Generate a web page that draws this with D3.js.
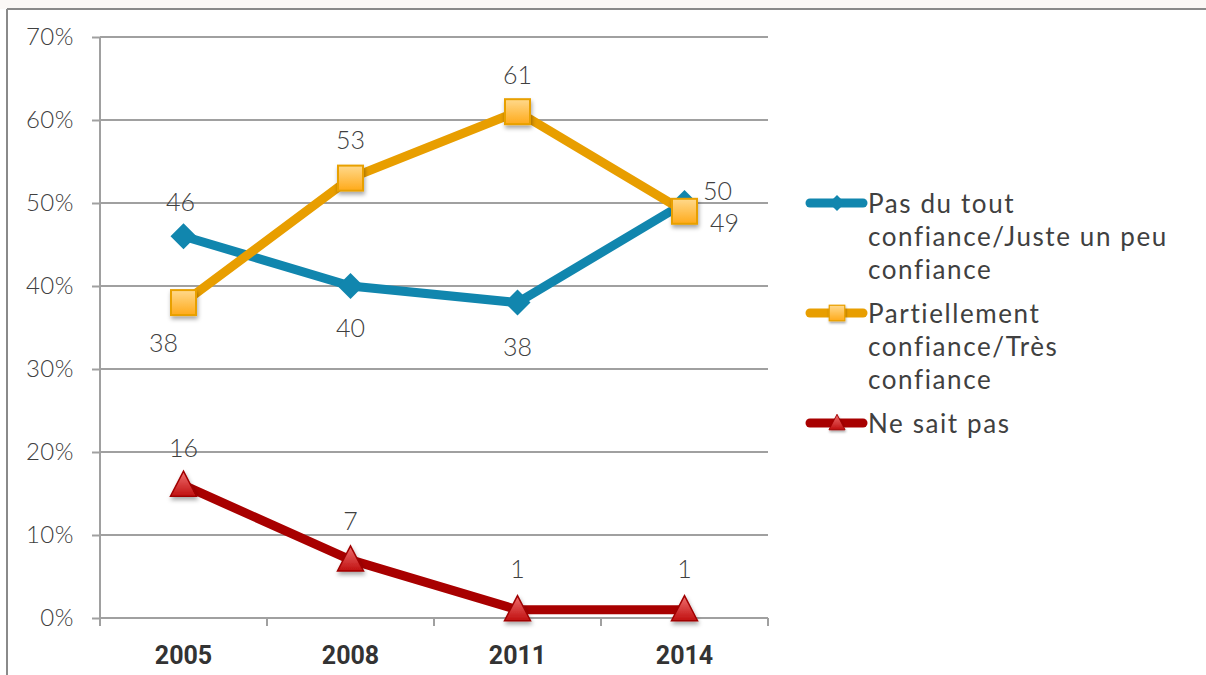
<!DOCTYPE html>
<html>
<head>
<meta charset="utf-8">
<script src="https://cdn.jsdelivr.net/npm/d3@7"></script>
<style>
  html, body { margin: 0; padding: 0; background: #fff; }
  svg { display: block; }
</style>
</head>
<body>
<svg id="chart" width="1206" height="675"></svg>
<script>
// Survey years and the three answer series (percent)
const years = ["2005", "2008", "2011", "2014"];
const pasConfiance = [46, 40, 38, 50];
const confiance = [38, 53, 61, 49];
const neSaitPas = [16, 7, 1, 1];
const yTicks = [0, 10, 20, 30, 40, 50, 60, 70];
const seriesNames = [
  ["Pas du tout", "confiance/Juste un peu", "confiance"],
  ["Partiellement", "confiance/Très", "confiance"],
  ["Ne sait pas"]
];

const svg = d3.select("#chart");
const W = 1206, H = 675;
const plot = { left: 100, right: 768, top: 37, bottom: 618 };

const x = d3.scaleBand().domain(years).range([plot.left, plot.right]).padding(0);
const y = d3.scaleLinear().domain([0, 70]).range([plot.bottom, plot.top]);

const defs = svg.append("defs");
const shadow = defs.append("filter").attr("id", "shadow")
  .attr("x", "-50%").attr("y", "-50%").attr("width", "200%").attr("height", "200%");
shadow.append("feDropShadow").attr("dx", 1).attr("dy", 3).attr("stdDeviation", 2)
  .attr("flood-color", "#000").attr("flood-opacity", 0.35);

const gSq = defs.append("linearGradient").attr("id", "gradSq").attr("x1", 0).attr("y1", 0).attr("x2", 0).attr("y2", 1);
gSq.append("stop").attr("offset", "0%").attr("stop-color", "#ffd98c");
gSq.append("stop").attr("offset", "100%").attr("stop-color", "#ffaa1a");
const gTri = defs.append("linearGradient").attr("id", "gradTri").attr("x1", 0).attr("y1", 0).attr("x2", 0).attr("y2", 1);
gTri.append("stop").attr("offset", "0%").attr("stop-color", "#f07070");
gTri.append("stop").attr("offset", "100%").attr("stop-color", "#c01010");

// page frame
svg.append("rect").attr("x", 0).attr("y", 0).attr("width", W).attr("height", 9).attr("fill", "#fbf8f6");
svg.append("line").attr("x1", 7).attr("x2", W).attr("y1", 9).attr("y2", 9).attr("stroke", "#8a8a8a").attr("stroke-width", 2);
svg.append("line").attr("x1", 7).attr("x2", 7).attr("y1", 9).attr("y2", H).attr("stroke", "#8a8a8a").attr("stroke-width", 2);

// gridlines
svg.append("g").selectAll("line").data(yTicks.filter(d => d > 0)).join("line")
  .attr("x1", plot.left).attr("x2", plot.right)
  .attr("y1", d => y(d)).attr("y2", d => y(d))
  .attr("stroke", "#a0a0a0").attr("stroke-width", 2);

// y axis
const yAxis = svg.append("g").attr("transform", `translate(${plot.left},0)`)
  .call(d3.axisLeft(y).tickValues(yTicks).tickFormat(d => d + "%").tickSize(8).tickPadding(18));
yAxis.select(".domain").attr("stroke", "#a0a0a0").attr("stroke-width", 2).attr("d", `M0,${plot.top}V${plot.bottom}`);
yAxis.selectAll(".tick line").attr("stroke", "#a0a0a0").attr("stroke-width", 2);
yAxis.selectAll(".tick text").attr("fill", "#404040").attr("font-family", "Lato, sans-serif")
  .attr("font-size", 24).attr("font-weight", 300).attr("letter-spacing", 0.5);

// x axis: ticks at category boundaries
const xAxis = svg.append("g").attr("transform", `translate(0,${plot.bottom})`);
xAxis.append("line").attr("x1", plot.left).attr("x2", plot.right).attr("y1", 0).attr("y2", 0)
  .attr("stroke", "#a0a0a0").attr("stroke-width", 2);
const bounds = years.map(d => x(d)).concat([x(years[years.length - 1]) + x.bandwidth()]);
xAxis.selectAll("line.tk").data(bounds).join("line").attr("class", "tk")
  .attr("x1", d => d).attr("x2", d => d).attr("y1", 0).attr("y2", 8)
  .attr("stroke", "#a0a0a0").attr("stroke-width", 2);
xAxis.selectAll("text").data(years).join("text")
  .attr("x", d => x(d) + x.bandwidth() / 2).attr("y", 46)
  .attr("text-anchor", "middle").attr("fill", "#333")
  .attr("font-family", "Roboto, sans-serif").attr("font-weight", 700).attr("font-size", 25)
  .text(d => d);

const cx = d => x(d) + x.bandwidth() / 2;
const line = d3.line().x(d => cx(d.year)).y(d => y(d.v));

const series = [
  { key: "bleu", values: pasConfiance, color: "#1186ae", marker: "diamond",
    labelOffset: [[-3, -35], [0, 41], [0, 43], [33, -13]] },
  { key: "orange", values: confiance, color: "#e89e00", marker: "square",
    labelOffset: [[-20, 39], [0, -39], [0, -38], [40, 11]] },
  { key: "rouge", values: neSaitPas, color: "#a80000", marker: "triangle",
    labelOffset: [[0, -38], [0, -40], [0, -42], [0, -42]] }
];

function drawMarker(g, type, color) {
  if (type === "diamond") {
    g.append("path").attr("d", "M0,-13L13,0L0,13L-13,0Z").attr("fill", color);
  } else if (type === "square") {
    g.append("rect").attr("x", -12.5).attr("y", -12.5).attr("width", 25).attr("height", 25)
      .attr("fill", "url(#gradSq)").attr("stroke", "#e8a000").attr("stroke-width", 2)
      .attr("filter", "url(#shadow)");
  } else {
    g.append("path").attr("d", "M0,-14L13,11L-13,11Z")
      .attr("fill", "url(#gradTri)").attr("stroke", "#a00000").attr("stroke-width", 1.5)
      .attr("filter", "url(#shadow)");
  }
}

series.forEach(s => {
  const pts = years.map((yr, i) => ({ year: yr, v: s.values[i] }));
  svg.append("path").datum(pts).attr("d", line).attr("fill", "none")
    .attr("stroke", s.color).attr("stroke-width", 9).attr("stroke-linejoin", "round");
});

series.forEach(s => {
  const pts = years.map((yr, i) => ({ year: yr, v: s.values[i] }));
  pts.forEach(p => {
    const g = svg.append("g").attr("transform", `translate(${cx(p.year)},${y(p.v)})`);
    drawMarker(g, s.marker, s.color);
  });
});

series.forEach(s => {
  years.forEach((yr, i) => {
    const [dx, dy] = s.labelOffset[i];
    svg.append("text").attr("x", cx(yr) + dx).attr("y", y(s.values[i]) + dy)
      .attr("text-anchor", "middle").attr("dominant-baseline", "central")
      .attr("fill", "#404040").attr("font-family", "Lato, sans-serif")
      .attr("font-size", 25).attr("font-weight", 300)
      .text(s.values[i]);
  });
});

// legend
const legend = svg.append("g");
let baseY = 213;
series.forEach((s, i) => {
  const names = seriesNames[i];
  const midY = baseY - 10;
  legend.append("line").attr("x1", 810).attr("x2", 863).attr("y1", midY).attr("y2", midY)
    .attr("stroke", s.color).attr("stroke-width", 9).attr("stroke-linecap", "round");
  const g = legend.append("g").attr("transform", `translate(837,${midY}) scale(0.62)`);
  drawMarker(g, s.marker, s.color);
  names.forEach((t, j) => {
    legend.append("text").attr("x", 868).attr("y", baseY + j * 33)
      .attr("fill", "#404040").attr("font-family", "Lato, sans-serif")
      .attr("font-size", 26).attr("font-weight", 400).attr("letter-spacing", 1.6).text(t);
  });
  baseY += names.length * 33 + 11;
});
</script>
</body>
</html>
